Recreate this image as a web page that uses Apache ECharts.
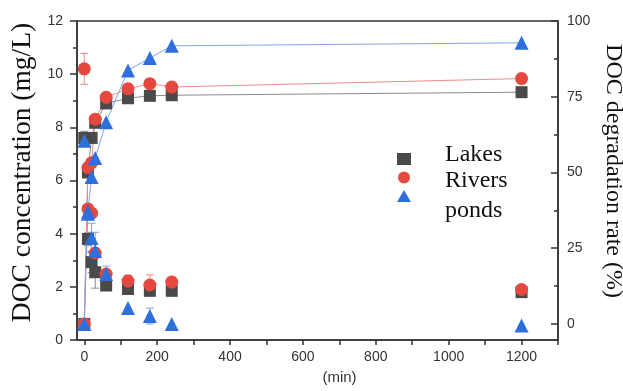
<!DOCTYPE html>
<html>
<head>
<meta charset="utf-8">
<script src="https://cdn.jsdelivr.net/npm/echarts@6/dist/echarts.min.js"></script>
<style>html,body{margin:0;padding:0;background:#fff}#c{width:623px;height:391px}</style>
</head>
<body>
<div id="c"></div>
<script>
// ---- data ----
var times = [0, 10, 20, 30, 60, 120, 180, 240, 1200];
var lakesConc  = [7.6, 3.8, 2.93, 2.55, 2.05, 1.92, 1.85, 1.85, 1.8];
var riversConc = [10.2, 4.93, 4.77, 3.27, 2.48, 2.22, 2.07, 2.18, 1.9];
var pondsConc  = [7.5, 4.75, 3.84, 3.35, 2.48, 1.2, 0.9, 0.6, 0.55];
var lakesRate  = [0, 50, 61.4, 66.4, 72.8, 74.5, 75.3, 75.5, 76.5];
var riversRate = [0, 51.6, 53.2, 67.6, 74.8, 77.6, 79.3, 78.2, 81];
var pondsRate  = [0, 37, 48.5, 54.8, 66.6, 83.7, 87.8, 91.8, 92.8];
var lakesErr   = [0.25, 0.25, 0.4, 0.6, 0, 0, 0, 0, 0];
var riversErr  = [0.58, 0, 0, 0, 0, 0.22, 0.38, 0.18, 0];
var pondsErr   = [0, 0, 0.55, 0.7, 0.3, 0, 0.3, 0, 0];
var xTicks = [0, 100, 200, 300, 400, 500, 600, 700, 800, 900, 1000, 1100, 1200, 1300];
var xLabels = [0, 200, 400, 600, 800, 1000, 1200];
var rateLabels = [0, 25, 50, 75, 100];
var rateMinor = [12.5, 37.5, 62.5, 87.5];
var names = ['Lakes', 'Rivers', 'ponds'];

var colors = ['#4a4a4a', '#e5483f', '#2f6fdc'];
var lineColors = ['#8a8a8a', '#f08a86', '#7fa6ee'];
var symbols = ['rect', 'circle', 'triangle'];
var sizes = [12, 13, 14];

function pairs(vals) { return times.map(function (t, i) { return [t, vals[i]]; }); }
function errData(vals, errs) {
  var out = [];
  times.forEach(function (t, i) { if (errs[i] > 0) out.push([t, vals[i] - errs[i], vals[i] + errs[i]]); });
  return out;
}
function errSeries(vals, errs, color) {
  return {
    type: 'custom', xAxisIndex: 0, yAxisIndex: 0, z: 1, silent: true,
    data: errData(vals, errs),
    renderItem: function (params, api) {
      var t = api.value(0);
      var lo = api.coord([t, api.value(1)]);
      var hi = api.coord([t, api.value(2)]);
      var w = 4;
      return {
        type: 'group',
        children: [
          { type: 'line', shape: { x1: lo[0], y1: lo[1], x2: hi[0], y2: hi[1] }, style: { stroke: color, lineWidth: 1 } },
          { type: 'line', shape: { x1: lo[0] - w, y1: lo[1], x2: lo[0] + w, y2: lo[1] }, style: { stroke: color, lineWidth: 1 } },
          { type: 'line', shape: { x1: hi[0] - w, y1: hi[1], x2: hi[0] + w, y2: hi[1] }, style: { stroke: color, lineWidth: 1 } }
        ]
      };
    }
  };
}

var concs = [lakesConc, riversConc, pondsConc];
var rates = [lakesRate, riversRate, pondsRate];
var errs = [lakesErr, riversErr, pondsErr];

var series = [];
for (var k = 0; k < 3; k++) {
  series.push(errSeries(concs[k], errs[k], lineColors[k]));
}
for (var k = 0; k < 3; k++) {
  series.push({
    name: names[k], type: 'line', xAxisIndex: 0, yAxisIndex: 1,
    data: pairs(rates[k]), symbol: symbols[k], symbolSize: sizes[k], z: 3,
    lineStyle: { color: lineColors[k], width: 1 },
    itemStyle: { color: colors[k], opacity: 1 }
  });
  series.push({
    name: names[k], type: 'scatter', xAxisIndex: 0, yAxisIndex: 0,
    data: pairs(concs[k]), symbol: symbols[k], symbolSize: sizes[k], z: 3,
    itemStyle: { color: colors[k], opacity: 1 }
  });
}

var labelStyle = { fontFamily: 'Liberation Sans', fontSize: 14, color: '#333' };
var axisLineStyle = { color: '#333', width: 1.5 };
function plain(v) { return String(v); }

var option = {
  animation: false,
  backgroundColor: '#fff',
  grid: { left: 77, right: 65, top: 21, bottom: 51, show: true, borderColor: '#333', borderWidth: 1.5,
          outerBoundsMode: 'none', containLabel: false },
  legend: {
    orient: 'vertical', left: 392, top: 148, itemWidth: 14, itemHeight: 12, itemGap: 6.5,
    data: names.map(function (n, i) { return { name: n, icon: symbols[i] }; }),
    formatter: function () { return ''; },
    selectedMode: false
  },
  graphic: [
    { type: 'text', left: 445, top: 143, style: { text: 'Lakes', font: '24px "Liberation Serif"', fill: '#111' } },
    { type: 'text', left: 445, top: 169, style: { text: 'Rivers', font: '24px "Liberation Serif"', fill: '#111' } },
    { type: 'text', left: 445, top: 199, style: { text: 'ponds', font: '24px "Liberation Serif"', fill: '#111' } }
  ],
  xAxis: {
    type: 'value', min: -20, max: 1300,
    name: '(min)', nameLocation: 'middle', nameGap: 30,
    nameTextStyle: { fontFamily: 'Liberation Sans', fontSize: 15, color: '#333', padding: [0, 0, 0, 44] },
    axisLine: { show: true, onZero: false, lineStyle: axisLineStyle },
    axisTick: { show: true, customValues: xTicks, length: 5, lineStyle: axisLineStyle },
    axisLabel: Object.assign({ customValues: xLabels, margin: 10, formatter: plain }, labelStyle),
    splitLine: { show: false }
  },
  yAxis: [
    {
      type: 'value', min: 0, max: 12, interval: 2, position: 'left',
      name: 'DOC concentration (mg/L)', nameLocation: 'middle', nameGap: 40, nameRotate: 90,
      nameTextStyle: { fontFamily: 'Liberation Serif', fontSize: 27.5, color: '#111', padding: [0, 0, 0, 16] },
      axisLine: { show: true, onZero: false, lineStyle: axisLineStyle },
      axisTick: { show: true, length: 7, lineStyle: axisLineStyle },
      minorTick: { show: true, splitNumber: 2, length: 4, lineStyle: axisLineStyle },
      axisLabel: Object.assign({ margin: 14 }, labelStyle),
      splitLine: { show: false }
    },
    {
      type: 'value', min: -5.3, max: 100, position: 'right',
      name: 'DOC degradation rate (%)', nameLocation: 'middle', nameGap: 36, nameRotate: -90,
      nameTextStyle: { fontFamily: 'Liberation Serif', fontSize: 24, color: '#111', padding: [0, 19, 0, 0] },
      axisLine: { show: true, onZero: false, lineStyle: axisLineStyle },
      axisTick: { show: true, inside: true, customValues: rateLabels, length: 7, lineStyle: axisLineStyle },
      axisLabel: Object.assign({ customValues: rateLabels, margin: 9 }, labelStyle),
      splitLine: { show: false }
    },
    {
      type: 'value', min: -5.3, max: 100, position: 'right',
      axisLine: { show: false, onZero: false },
      axisTick: { show: true, inside: true, customValues: rateMinor, length: 4, lineStyle: axisLineStyle },
      axisLabel: { show: false },
      splitLine: { show: false }
    }
  ],
  series: series
};

var chart = echarts.init(document.getElementById('c'), null, { renderer: 'canvas' });
chart.setOption(option);
</script>
</body>
</html>
